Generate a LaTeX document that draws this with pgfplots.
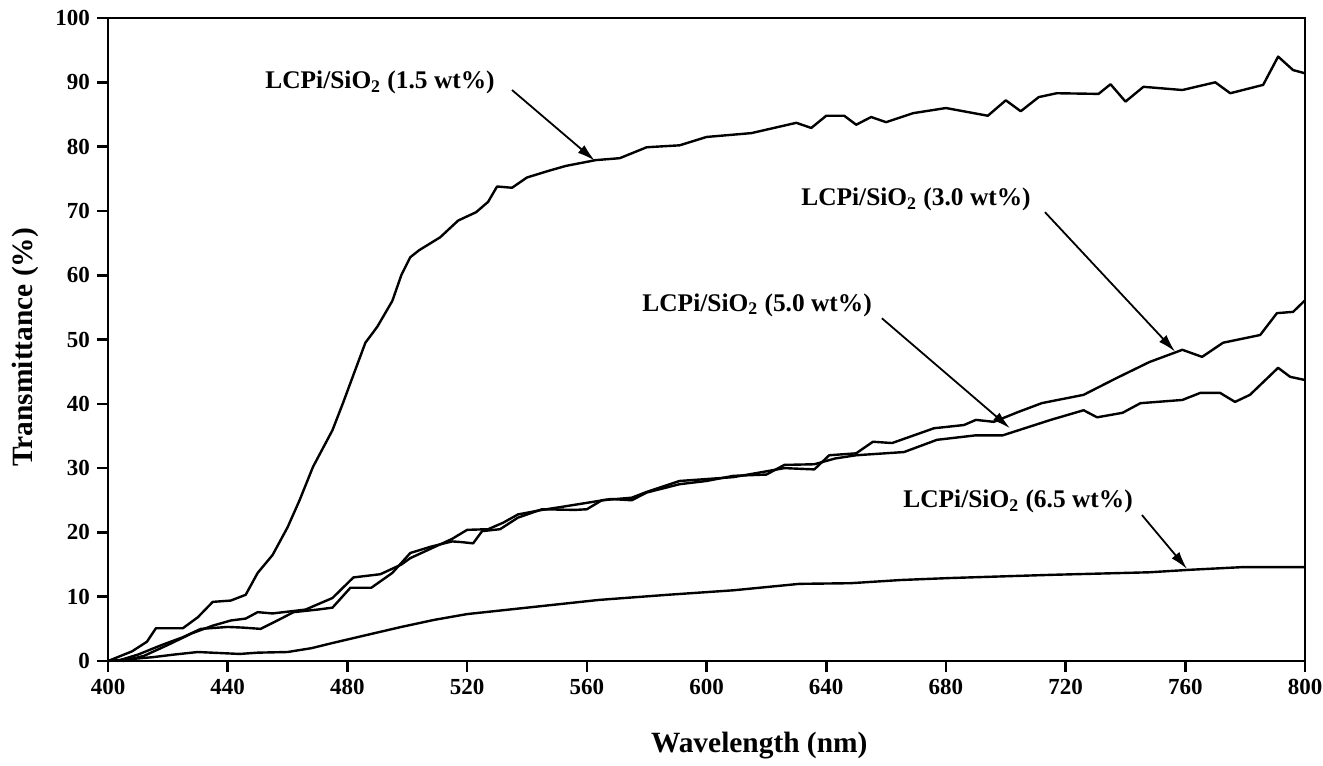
\documentclass[border=0pt]{standalone}
\usepackage{fontspec}
\setmainfont{Liberation Serif}
\usepackage{pgfplots}
\pgfplotsset{compat=1.18}
\usetikzlibrary{arrows.meta}

\newcommand{\lab}[1]{LCPi/SiO\textsubscript{2} (#1 wt\%)}

\begin{document}
\begin{tikzpicture}
\begin{axis}[
  scale only axis, width=598.5pt, height=321.5pt,
  xmin=400, xmax=800, ymin=0, ymax=100,
  xtick={400,440,...,800}, ytick={0,10,...,100},
  tick pos=left, tick align=outside,
  major tick length=5.5pt,
  axis line style={line width=1.3pt},
  every tick/.style={black, line width=1.3pt},
  /pgf/number format/assume math mode=true,
  ticklabel style={font=\fontsize{11.5}{13}\selectfont\bfseries},
  xlabel={Wavelength (nm)}, ylabel={Transmittance (\%)},
  label style={font=\fontsize{14.7}{17}\selectfont\bfseries},
  xlabel style={at={(axis description cs:0.544,-0.131)}, anchor=center},
  ylabel style={at={(axis description cs:-0.069,0.488)}, anchor=center},
  clip=false,
  no markers,
]
% 1.5 wt%
\addplot[black, line width=1.2pt, line join=round] coordinates {(400,0) (408,1.5) (413,3.0) (416,5.1) (425,5.1) (430,6.8) (435,9.2) (441,9.4)
 (446,10.3) (450,13.7) (455,16.5) (460,20.8) (464,25.0) (468.5,30.2) (475,35.9) (478.5,40.1)
 (482,44.5) (486,49.5) (490,52.0) (495,56.0) (498,60.0) (501,62.8) (504,63.9) (511,65.9)
 (517,68.5) (523,69.8) (527,71.4) (530,73.8) (535,73.6) (540,75.2) (547,76.2) (553,77.0)
 (563,77.9) (571,78.2) (580,79.9) (591,80.2) (600,81.5) (615,82.1) (630,83.7) (635,82.9)
 (640,84.8) (646,84.8) (650,83.4) (655,84.6) (660,83.8) (669,85.2) (680,86.0) (694,84.8)
 (700,87.2) (705,85.5) (711,87.7) (717,88.3) (731,88.2) (735,89.7) (740,87.0) (746,89.3)
 (759,88.8) (770,90.0) (775,88.3) (786,89.6) (791,94.0) (796,91.9) (800,91.4)};
% 3.0 wt%
\addplot[black, line width=1.2pt, line join=round] coordinates {(403,0) (410,1.0) (418,2.5) (425,3.7) (431,5.0) (440,5.3) (445,5.2) (451,5.0)
 (457,6.4) (462,7.6) (470,8.0) (475,8.3) (481,11.4) (488,11.4) (495,13.7) (501,16.8)
 (508,17.8) (515,18.6) (518,18.5) (522,18.3) (525,20.2) (531,20.5) (537,22.3) (545,23.6)
 (556,23.5) (560,23.6) (565,25.0) (575,25.4) (580,26.3) (591,28.0) (600,28.3) (609,28.6)
 (620,29.5) (626,30.0) (636,29.8) (641,32.0) (650,32.3) (655.6,34.1) (662,33.9) (676,36.2)
 (686,36.7) (690,37.5) (696,37.2) (704,38.7) (712,40.1) (726,41.4) (737,44.0) (748,46.5)
 (759,48.4) (765.6,47.3) (772.6,49.5) (785,50.7) (790.6,54.1) (796,54.3) (800,56.1)};
% 5.0 wt%
\addplot[black, line width=1.2pt, line join=round] coordinates {(405,0) (412,0.8) (420,2.5) (428,4.3) (435,5.5) (441,6.3) (446,6.6) (450,7.6)
 (455,7.4) (466,8.0) (475,9.8) (482,13.0) (491,13.5) (498,15.0) (501,16.0) (508,17.5)
 (515,19.0) (520,20.4) (527,20.5) (532,21.5) (537,22.8) (545,23.5) (552,24.0) (560,24.6)
 (568,25.2) (575,25.0) (580,26.2) (591,27.5) (600,28.0) (609,28.8) (620,29.0) (626,30.5)
 (636,30.6) (643,31.5) (650,32.0) (666,32.5) (677,34.4) (690,35.1) (699,35.1) (715,37.5)
 (726,39.0) (730.5,37.9) (739,38.6) (745,40.1) (759,40.6) (765,41.7) (771.6,41.7)
 (776.6,40.3) (781.6,41.4) (791,45.6) (795,44.2) (800,43.7)};
% 6.5 wt%
\addplot[black, line width=1.2pt, line join=round] coordinates {(400,0) (405,0.2) (415,0.6) (422,1.0) (430,1.4) (444,1.1) (450,1.3) (460,1.4)
 (468,2.0) (475,2.8) (486,4.0) (498,5.3) (509,6.4) (520,7.3) (538,8.2) (542,8.4) (564,9.5)
 (587,10.3) (609,11.0) (631,12.0) (648,12.1) (665,12.6) (681,12.9) (715,13.4) (748,13.8)
 (762,14.2) (779,14.6) (800,14.6)};

\begin{scope}[font=\fontsize{12.7}{15}\selectfont\bfseries]
\node[anchor=base, inner sep=0pt] at (axis cs:490.9,89.0) {\lab{1.5}};
\node[anchor=base, inner sep=0pt] at (axis cs:670,70.8) {\lab{3.0}};
\node[anchor=base, inner sep=0pt] at (axis cs:616.9,54.4) {\lab{5.0}};
\node[anchor=base, inner sep=0pt] at (axis cs:704.1,23.8) {\lab{6.5}};
\end{scope}
\begin{scope}[line width=0.9pt, -{Latex[length=9pt,width=5pt]}]
\draw (axis cs:535,88.8) -- (axis cs:562.7,77.8);
\draw (axis cs:713.1,69.8) -- (axis cs:756.6,48.1);
\draw (axis cs:658.6,53.3) -- (axis cs:701.4,36.2);
\draw (axis cs:745.5,22.7) -- (axis cs:760.6,14.3);
\end{scope}
\coordinate (bbl) at (axis cs:363.9,-16.2);
\coordinate (btr) at (axis cs:806,102.8);
\end{axis}
\pgfresetboundingbox
\path (bbl) rectangle (btr);
\end{tikzpicture}
\end{document}
